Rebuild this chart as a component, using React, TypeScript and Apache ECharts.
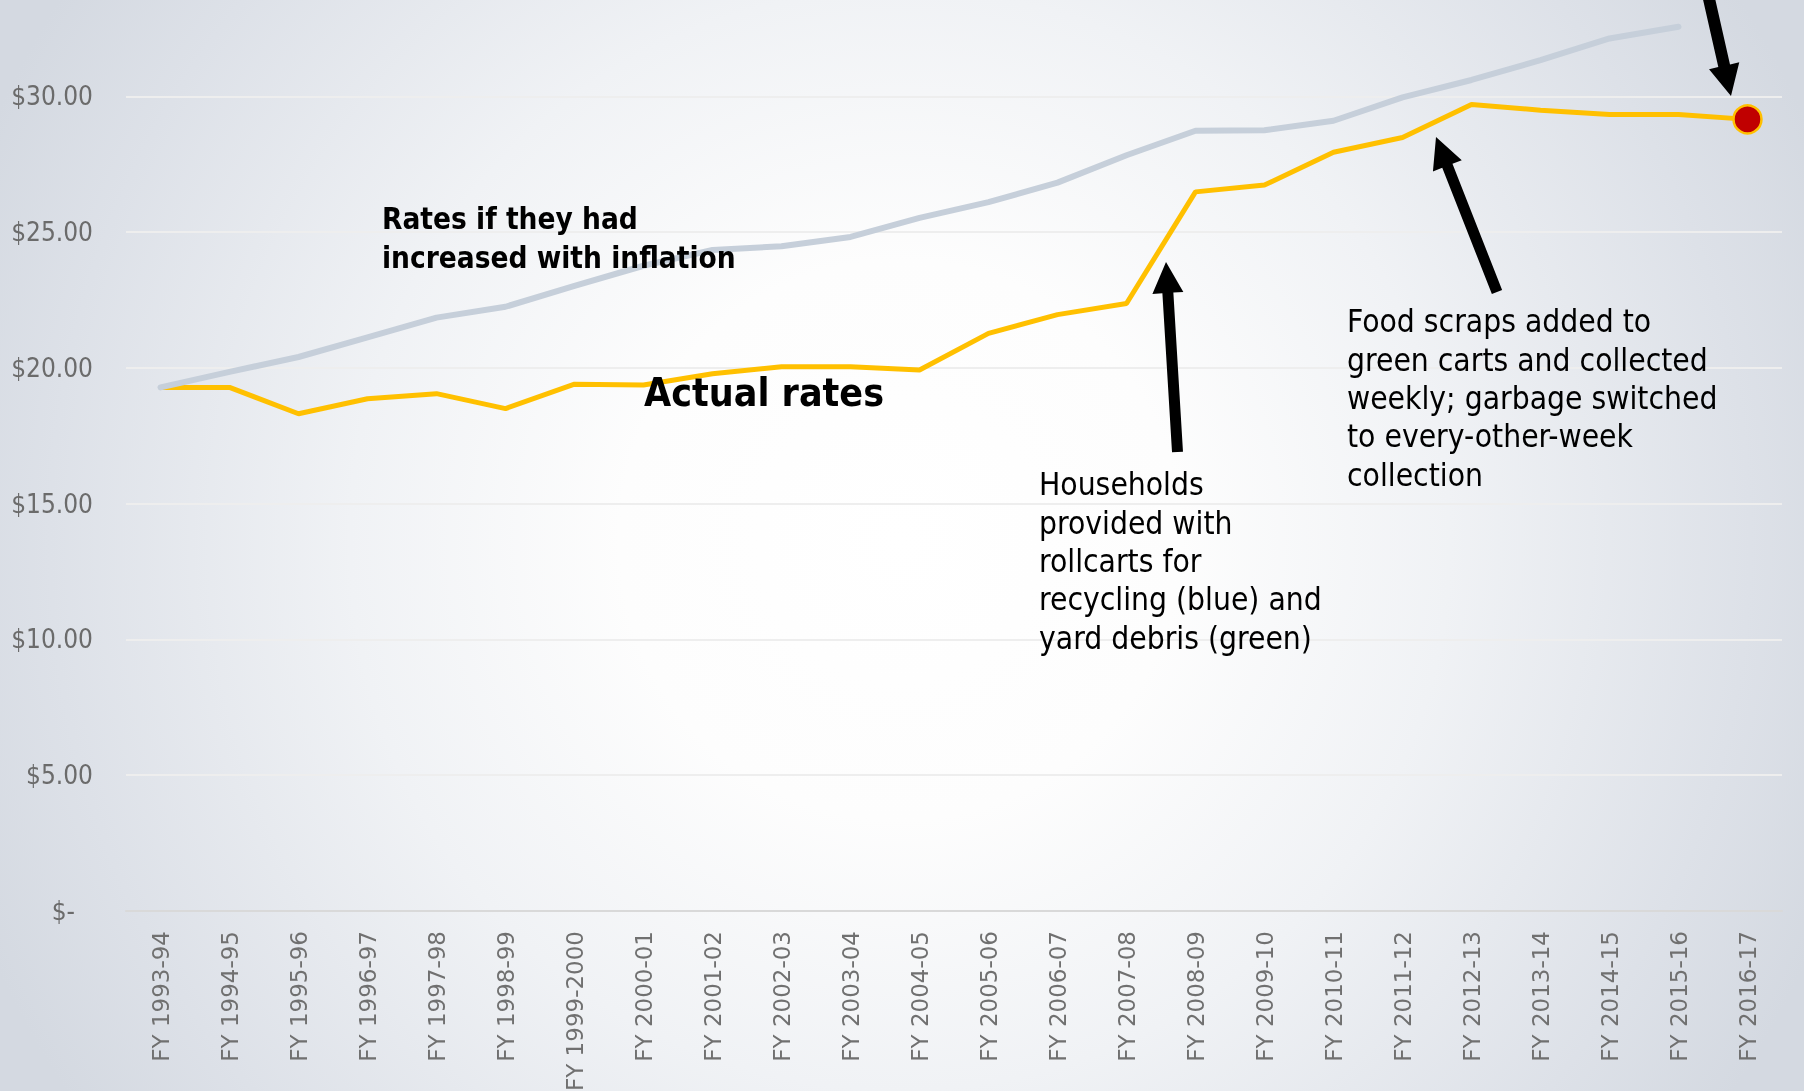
import React, { useEffect, useRef } from "react";
import * as echarts from "echarts";

const categories = [
  "FY 1993-94", "FY 1994-95", "FY 1995-96", "FY 1996-97", "FY 1997-98", "FY 1998-99",
  "FY 1999-2000", "FY 2000-01", "FY 2001-02", "FY 2002-03", "FY 2003-04", "FY 2004-05",
  "FY 2005-06", "FY 2006-07", "FY 2007-08", "FY 2008-09", "FY 2009-10", "FY 2010-11",
  "FY 2011-12", "FY 2012-13", "FY 2013-14", "FY 2014-15", "FY 2015-16", "FY 2016-17",
];

const actualRates = [
  19.28, 19.28, 18.31, 18.86, 19.05, 18.5, 19.4, 19.37, 19.78, 20.04, 20.04, 19.92,
  21.27, 21.96, 22.37, 26.48, 26.73, 27.94, 28.48, 29.7, 29.49, 29.33, 29.33, 29.15,
];

const inflationRates: (number | null)[] = [
  19.28, 19.85, 20.4, 21.12, 21.85, 22.25, 23.02, 23.76, 24.34, 24.48, 24.82, 25.52,
  26.1, 26.82, 27.83, 28.73, 28.75, 29.1, 29.96, 30.6, 31.33, 32.13, 32.56, null,
];

const yTicks = [0, 5, 10, 15, 20, 25, 30, 35];

const annotationInflation = "Rates if they had\nincreased with inflation";
const annotationActual = "Actual rates";
const annotationRollcarts =
  "Households\nprovided with\nrollcarts for\nrecycling (blue) and\nyard debris (green)";
const annotationFood =
  "Food scraps added to\ngreen carts and collected\nweekly; garbage switched\nto every-other-week\ncollection";

const COND = '"DejaVu Sans Condensed", "DejaVu Sans", sans-serif';

function arrow(tail: number[], tip: number[], shaft: number, headLen: number, headW: number) {
  const dx = tip[0] - tail[0];
  const dy = tip[1] - tail[1];
  const len = Math.sqrt(dx * dx + dy * dy);
  const ux = dx / len, uy = dy / len;
  const px = -uy, py = ux;
  const bx = tip[0] - ux * headLen, by = tip[1] - uy * headLen;
  const s = shaft / 2, h = headW / 2;
  return {
    type: "polygon",
    silent: true,
    z: 50,
    shape: {
      points: [
        [tail[0] + px * s, tail[1] + py * s],
        [bx + px * s, by + py * s],
        [bx + px * h, by + py * h],
        [tip[0], tip[1]],
        [bx - px * h, by - py * h],
        [bx - px * s, by - py * s],
        [tail[0] - px * s, tail[1] - py * s],
      ],
    },
    style: { fill: "#000000" },
  };
}

export default function App() {
  const ref = useRef<HTMLDivElement>(null);
  useEffect(() => {
    if (!ref.current) return;
    const chart = echarts.init(ref.current, null, { renderer: "svg" });
    const last = actualRates.length - 1;
    const topTick = yTicks[yTicks.length - 1];
    const dotData = actualRates.map((v, i) => (i === last ? v : "-"));
    const option: any = {
      animation: false,
      grid: {
        left: 126,
        right: 22,
        top: -39.5,
        bottom: 180,
        containLabel: false,
        outerBoundsMode: "none",
      },
      xAxis: {
        type: "category",
        data: categories,
        boundaryGap: true,
        axisTick: { show: false },
        axisLine: { show: true, lineStyle: { color: "#d9d9d9", width: 2 } },
        axisLabel: {
          rotate: 90,
          interval: 0,
          margin: 20,
          color: "#707070",
          fontSize: 23,
          fontFamily: '"DejaVu Sans", sans-serif',
        },
        splitLine: { show: false },
      },
      yAxis: {
        type: "value",
        min: yTicks[0],
        max: topTick,
        interval: 5,
        axisLine: { show: false },
        axisTick: { show: false },
        splitLine: { show: true, lineStyle: { color: "#eeeeee", width: 2 } },
        axisLabel: {
          margin: 33,
          color: "#6b6b6b",
          fontSize: 26,
          fontFamily: COND,
          formatter: (v: number) =>
            v >= topTick ? "" : v === 0 ? "{z|$-}" : "$" + v.toFixed(2),
          rich: {
            z: { color: "#6b6b6b", fontSize: 26, fontFamily: COND, padding: [0, 18, 0, 0] },
          },
        },
      },
      series: [
        {
          name: "Actual rates",
          type: "line",
          data: actualRates,
          symbol: "none",
          z: 3,
          lineStyle: { color: "#FFC000", width: 5 },
        },
        {
          name: "Rates if they had increased with inflation",
          type: "line",
          data: inflationRates.map((v) => (v === null ? "-" : v)),
          symbol: "none",
          z: 4,
          lineStyle: { color: "#c6cfda", width: 6, cap: "round", join: "round" },
        },
        {
          name: "FY 2016-17",
          type: "scatter",
          data: dotData,
          symbol: "circle",
          symbolSize: 28,
          z: 5,
          itemStyle: { color: "#C00000", borderColor: "#FFC000", borderWidth: 2.5, opacity: 1 },
        },
      ],
      graphic: [
        {
          type: "rect",
          silent: true,
          z: -100,
          shape: { x: 0, y: 0, width: 1804, height: 1091 },
          style: {
            fill: {
              type: "radial",
              x: 900,
              y: 540,
              r: 1000,
              global: true,
              colorStops: [
                { offset: 0, color: "#ffffff" },
                { offset: 0.28, color: "#fdfdfd" },
                { offset: 0.55, color: "#f0f2f5" },
                { offset: 0.85, color: "#dde1e8" },
                { offset: 1, color: "#d4d9e1" },
              ],
            },
          },
        },
        {
          type: "text",
          silent: true,
          z: 60,
          style: {
            text: annotationInflation,
            x: 382,
            y: 238,
            fill: "#000000",
            fontSize: 29.5,
            fontWeight: "bold",
            fontFamily: COND,
            lineHeight: 39,
            align: "left",
            verticalAlign: "middle",
          },
        },
        {
          type: "text",
          silent: true,
          z: 60,
          style: {
            text: annotationActual,
            x: 644,
            y: 392,
            fill: "#000000",
            fontSize: 39,
            fontWeight: "bold",
            fontFamily: COND,
            align: "left",
            verticalAlign: "middle",
          },
        },
        {
          type: "text",
          silent: true,
          z: 60,
          style: {
            text: annotationRollcarts,
            x: 1039,
            y: 561,
            fill: "#000000",
            fontSize: 31.5,
            fontFamily: COND,
            lineHeight: 38.3,
            align: "left",
            verticalAlign: "middle",
          },
        },
        {
          type: "text",
          silent: true,
          z: 60,
          style: {
            text: annotationFood,
            x: 1347,
            y: 398,
            fill: "#000000",
            fontSize: 31.5,
            fontFamily: COND,
            lineHeight: 38.4,
            align: "left",
            verticalAlign: "middle",
          },
        },
        arrow([1177.5, 452], [1166, 262], 11, 31, 31),
        arrow([1497, 292], [1436, 137], 11, 31, 31),
        arrow([1707, -10], [1731, 96], 12, 31, 31),
      ],
    };
    chart.setOption(option);
    return () => chart.dispose();
  }, []);
  return (
    <div
      ref={ref}
      style={{ position: "fixed", left: 0, top: 0, width: 1804, height: 1091 }}
    />
  );
}
